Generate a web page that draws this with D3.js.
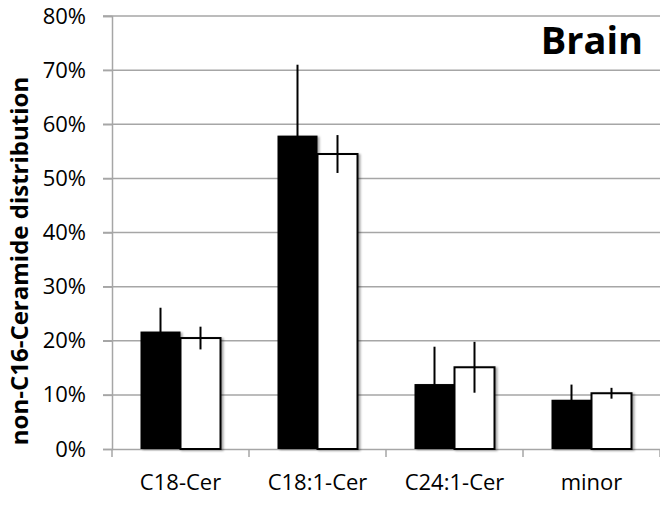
<!DOCTYPE html>
<html>
<head>
<meta charset="utf-8">
<script src="https://cdn.jsdelivr.net/npm/d3@7"></script>
<style>
  body { margin: 0; background: #fff; }
  svg text { font-family: "Open Sans", sans-serif; fill: #000; }
</style>
</head>
<body>
<div id="chart"></div>
<script>
const categories = ['C18-Cer', 'C18:1-Cer', 'C24:1-Cer', 'minor'];
const blackValues = [21.7, 57.9, 12.0, 9.1];
const blackErrors = [4.4, 13.1, 6.9, 2.8];
const whiteValues = [20.5, 54.5, 15.1, 10.3];
const whiteErrors = [2.1, 3.5, 4.7, 1.0];
const yTicks = [0, 10, 20, 30, 40, 50, 60, 70, 80];

const W = 660, H = 505;
const margin = {top: 16, right: 0, bottom: 56, left: 112};
const width = W - margin.left - margin.right;
const height = H - margin.top - margin.bottom;

const svg = d3.select('#chart').append('svg')
  .attr('width', W).attr('height', H);

const defs = svg.append('defs');
const filt = defs.append('filter').attr('id', 'shadow')
  .attr('x', '-10%').attr('y', '-10%').attr('width', '130%').attr('height', '130%');
filt.append('feDropShadow').attr('dx', 2).attr('dy', 1).attr('stdDeviation', 1.2)
  .attr('flood-color', '#000').attr('flood-opacity', 0.35);

const g = svg.append('g').attr('transform', `translate(${margin.left},${margin.top})`);

const x = d3.scaleBand().domain(categories).range([0, width]);
const y = d3.scaleLinear().domain([0, 80]).range([height, 0]);

// gridlines
g.append('g').selectAll('line').data(yTicks.slice(1)).enter().append('line')
  .attr('x1', -9).attr('x2', width)
  .attr('y1', d => y(d)).attr('y2', d => y(d))
  .attr('stroke', '#a6a6a6').attr('stroke-width', 1.5);

// y axis
const yAxis = g.append('g')
  .call(d3.axisLeft(y).tickValues(yTicks).tickFormat(d => d + '%').tickSize(9).tickPadding(17));
yAxis.select('.domain').attr('stroke', '#a6a6a6').attr('stroke-width', 1.5);
yAxis.selectAll('.tick line').attr('stroke', '#a6a6a6').attr('stroke-width', 1.5);
yAxis.selectAll('text').style('font-size', '22px').attr('fill', '#000');

// x axis
const xAxis = g.append('g').attr('transform', `translate(0,${height})`)
  .call(d3.axisBottom(x).tickSize(0));
xAxis.select('.domain').attr('stroke', '#a6a6a6').attr('stroke-width', 1.5);
xAxis.selectAll('.tick line').remove();
xAxis.selectAll('text').style('font-size', '22px').attr('fill', '#000')
  .attr('y', 41).attr('dy', 0);
g.append('g').selectAll('line').data(categories.concat(['__end'])).enter().append('line')
  .attr('x1', (d, i) => i * x.bandwidth()).attr('x2', (d, i) => i * x.bandwidth())
  .attr('y1', height).attr('y2', height + 8)
  .attr('stroke', '#a6a6a6').attr('stroke-width', 1.5);

const barW = 40;
const data = categories.map((c, i) => ({
  cat: c, b: blackValues[i], be: blackErrors[i], w: whiteValues[i], we: whiteErrors[i]
}));

const groups = g.append('g').selectAll('g').data(data).enter().append('g')
  .attr('transform', d => `translate(${x(d.cat) + x.bandwidth() / 2},0)`);

// black bars
groups.append('rect')
  .attr('x', -barW).attr('width', barW)
  .attr('y', d => y(d.b)).attr('height', d => height - y(d.b))
  .attr('fill', '#000').attr('filter', 'url(#shadow)');
// white bars
groups.append('rect')
  .attr('x', 0).attr('width', barW)
  .attr('y', d => y(d.w)).attr('height', d => height - y(d.w))
  .attr('fill', '#fff').attr('stroke', '#000').attr('stroke-width', 2)
  .attr('filter', 'url(#shadow)');

// error bars (black: only upward visible)
groups.append('line')
  .attr('x1', -barW / 2).attr('x2', -barW / 2)
  .attr('y1', d => y(d.b + d.be)).attr('y2', d => y(d.b - d.be))
  .attr('stroke', '#000').attr('stroke-width', 2);
groups.append('line')
  .attr('x1', barW / 2).attr('x2', barW / 2)
  .attr('y1', d => y(d.w + d.we)).attr('y2', d => y(d.w - d.we))
  .attr('stroke', '#000').attr('stroke-width', 2);

// y label
svg.append('text')
  .attr('transform', `translate(28,261) rotate(-90)`)
  .attr('text-anchor', 'middle')
  .style('font-size', '24px').style('font-weight', 'bold')
  .text('non-C16-Ceramide distribution');

// panel title
svg.append('text')
  .attr('x', 643).attr('y', 54).attr('text-anchor', 'end')
  .style('font-size', '38px').style('font-weight', 'bold')
  .text('Brain');
</script>
</body>
</html>
